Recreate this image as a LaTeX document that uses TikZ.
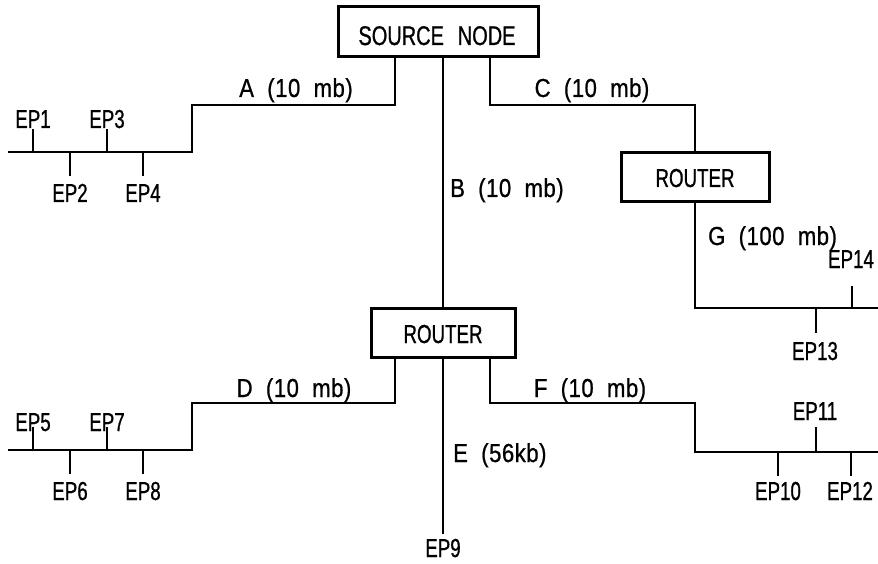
\documentclass[tikz,border=0pt]{standalone}
\usepackage{fontspec}
\setmainfont{Liberation Sans}[FakeStretch=0.72, FakeBold=0.8]
\newfontfamily\lnkfont{Liberation Sans}[FakeStretch=0.85, FakeBold=0.8, WordSpace=2, LetterSpace=2]
\newfontfamily\srcfont{Liberation Sans}[FakeStretch=0.74, FakeBold=0.8, WordSpace=2.5]
\begin{document}
\begin{tikzpicture}[x=1pt,y=-1pt,
  box/.style={draw, line width=3pt, inner sep=0pt},
  wire/.style={line width=2pt, line cap=rect, line join=miter},
  lbl/.style={inner sep=0pt, anchor=base, font=\fontsize{26}{26}\selectfont},
  lnk/.style={inner sep=0pt, anchor=base, font=\fontsize{26}{26}\lnkfont},
  lnkw/.style={lnk, anchor=base west}]
\useasboundingbox (0,0) rectangle (878,564);

% boxes
\node[box, minimum width=200pt, minimum height=50pt] (src) at (438,32) {};
\node[lbl, font=\fontsize{27}{27}\srcfont] (srct) at (437,45) {SOURCE NODE};
\node[box, minimum width=148pt, minimum height=49pt] (r1) at (695,177.5) {};
\node[lbl] (r1t) at (695,187) {ROUTER};
\node[box, minimum width=144pt, minimum height=49pt] (r2) at (443,332.5) {};
\node[lbl] (r2t) at (443,343) {ROUTER};

% coordinates
\coordinate (aTop) at (395,57);
\coordinate (aBend) at (395,105);
\coordinate (aBend2) at (192,105);
\coordinate (aBus) at (192,152);
\coordinate (aEnd) at (9,152);
\coordinate (cTop) at (490,57);
\coordinate (cBend) at (490,105);
\coordinate (cBend2) at (695,105);
\coordinate (gBus) at (695,308);
\coordinate (gEnd) at (878,308);
\coordinate (dTop) at (395,357);
\coordinate (dBend) at (395,403);
\coordinate (dBend2) at (192,403);
\coordinate (dBus) at (192,450);
\coordinate (dEnd) at (9,450);
\coordinate (fTop) at (490,357);
\coordinate (fBend) at (490,403);
\coordinate (fBend2) at (695,403);
\coordinate (fBus) at (695,452);
\coordinate (fEnd) at (878,452);
\coordinate (ep9c) at (443,533);

% EP labels
\node[lbl] (ep1) at (33,128) {EP1};
\node[lbl] (ep2) at (70,202) {EP2};
\node[lbl] (ep3) at (107,128) {EP3};
\node[lbl] (ep4) at (143,202) {EP4};
\node[lbl] (ep5) at (33,431) {EP5};
\node[lbl] (ep6) at (70,500) {EP6};
\node[lbl] (ep7) at (107,431) {EP7};
\node[lbl] (ep8) at (143,500) {EP8};
\node[lbl] (ep9) at (443,557) {EP9};
\node[lbl] (ep10) at (778,500) {EP10};
\node[lbl] (ep11) at (815,420) {EP11};
\node[lbl] (ep12) at (850,500) {EP12};
\node[lbl] (ep13) at (815,360) {EP13};
\node[lbl] (ep14) at (851,268) {EP14};

% link labels
\node[lnk] (la) at (296,97) {A (10 mb)};
\node[lnk] (lc) at (592,97) {C (10 mb)};
\node[lnkw] (lb) at (450,197) {B (10 mb)};
\node[lnkw] (lg) at (708,245) {G (100 mb)};
\node[lnk] (ld) at (294,397) {D (10 mb)};
\node[lnk] (lf) at (590,397) {F (10 mb)};
\node[lnkw] (le) at (453,462) {E (56kb)};

% wires
\draw[wire] (aTop) -- (aBend) -- (aBend2) -- (aBus) -- (aEnd);
\draw[wire] (src.south -| 443,0) -- (r2.north);
\draw[wire] (cTop) -- (cBend) -- (cBend2) -- (r1.north);
\draw[wire] (r1.south) -- (gBus) -- (gEnd);
\draw[wire] (dTop) -- (dBend) -- (dBend2) -- (dBus) -- (dEnd);
\draw[wire] (r2.south) -- (ep9c);
\draw[wire] (fTop) -- (fBend) -- (fBend2) -- (fBus) -- (fEnd);

% ticks
\draw[wire] (33,152) -- (33,130);
\draw[wire] (70,152) -- (70,175);
\draw[wire] (107,152) -- (107,130);
\draw[wire] (143,152) -- (143,175);
\draw[wire] (33,450) -- (33,428);
\draw[wire] (70,450) -- (70,473);
\draw[wire] (107,450) -- (107,428);
\draw[wire] (143,450) -- (143,473);
\draw[wire] (852,308) -- (852,287);
\draw[wire] (816,308) -- (816,332);
\draw[wire] (816,452) -- (816,428);
\draw[wire] (778,452) -- (778,475);
\draw[wire] (851,452) -- (851,475);
\end{tikzpicture}
\end{document}
